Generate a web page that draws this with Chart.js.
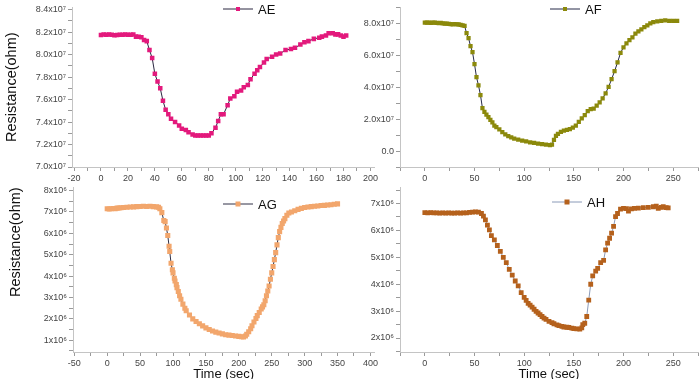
<!DOCTYPE html>
<html>
<head>
<meta charset="utf-8">
<script src="https://cdn.jsdelivr.net/npm/chart.js@4.4.0/dist/chart.umd.min.js"></script>
<style>
    html, body { margin: 0; padding: 0; background: #fff; }
    #wrap { position: relative; width: 700px; height: 379px; overflow: hidden; }
    #wrap canvas { position: absolute; }
</style>
</head>
<body>
<div id="wrap">
    <canvas id="chartAE" width="380" height="190" style="left:0;top:0"></canvas>
    <canvas id="chartAF" width="360" height="190" style="left:340px;top:0"></canvas>
    <canvas id="chartAG" width="380" height="199" style="left:0;top:180px"></canvas>
    <canvas id="chartAH" width="360" height="199" style="left:340px;top:180px"></canvas>
</div>
<script>
// AE: time (sec) and resistance (x10^7 ohm)
const aeTime = [0,2,4,6,8,10,12,14,16,18,20,22,24,26,28,30,32,34,36,38,40,42,44,46,48,50,52,
    55,58,60,63,65,68,70,72,74,76,78,80,
    82,85,87,89,91,94,96,99,101,104,106,109,111,114,116,118,121,123,127,130,133,137,141,144,148,151,154,158,162,164,167,169,172,174,176,178,180,182];
const aeRes = [8.175,8.178,8.176,8.179,8.177,8.172,8.175,8.177,8.176,8.178,8.177,8.176,8.178,8.16,8.158,8.155,8.13,8.12,8.04,7.97,7.83,7.76,7.70,7.59,7.51,7.47,7.43,
    7.40,7.37,7.34,7.33,7.31,7.29,7.28,7.28,7.28,7.28,7.28,7.28,
    7.30,7.35,7.41,7.47,7.47,7.55,7.61,7.63,7.67,7.68,7.71,7.73,7.78,7.83,7.86,7.89,7.93,7.96,7.98,8.00,8.01,8.04,8.05,8.06,8.09,8.11,8.12,8.14,8.15,8.16,8.17,8.19,8.19,8.18,8.18,8.17,8.16,8.17];

// AF: time (sec) and resistance (x10^7 ohm)
const afTime = [0,2,4,6,8,10,12,14,16,18,20,22,24,26,28,30,32,34,36,38,40,
    42,44,46,48,50,52,54,56,58,60,62,64,66,68,70,72,75,78,81,84,87,90,94,98,102,106,110,114,118,122,126,
    128,130,132,134,137,140,143,146,149,152,155,158,161,164,167,170,173,176,179,182,185,188,191,194,197,
    200,203,206,209,212,215,218,221,224,227,230,234,238,242,246,250,254];
const afRes = [8.05,8.04,8.05,8.03,8.04,8.05,8.03,8.02,8.03,8.00,7.99,7.98,7.97,7.95,7.93,7.96,7.94,7.93,7.90,7.88,7.85,
    7.39,7.08,6.57,6.20,5.45,4.63,4.12,3.51,2.69,2.45,2.28,2.12,1.95,1.80,1.60,1.50,1.35,1.18,1.05,0.93,0.85,0.78,0.72,0.65,0.60,0.55,0.51,0.47,0.43,0.40,0.37,
    0.40,0.70,0.95,1.08,1.20,1.28,1.33,1.38,1.47,1.60,1.82,2.05,2.25,2.50,2.62,2.65,2.85,3.05,3.30,3.62,4.02,4.50,5.00,5.55,6.15,
    6.50,6.75,6.95,7.12,7.35,7.50,7.62,7.76,7.88,8.00,8.08,8.13,8.15,8.18,8.16,8.15,8.16];

// AG: time (sec) and resistance (x10^6 ohm)
const agTime = [0,3,6,9,12,15,18,21,25,30,35,40,45,50,55,60,65,70,75,78,
    80,83,86,88,90,92,94,95,97,99,100,102,103,105,106,108,110,112,115,118,120,125,130,135,140,145,150,155,160,165,170,175,180,185,190,195,200,204,207,
    210,212,215,218,220,223,226,228,231,234,236,238,240,242,244,246,248,250,252,254,256,258,260,262,264,266,268,270,273,276,
    280,285,290,295,300,305,310,315,320,325,330,335,340,345,350];
const agRes = [7.15,7.14,7.15,7.16,7.15,7.18,7.19,7.20,7.21,7.22,7.23,7.24,7.25,7.26,7.27,7.26,7.27,7.25,7.24,7.22,
    7.15,6.97,6.60,6.55,6.25,5.90,5.40,5.15,4.60,4.30,4.15,3.90,3.77,3.60,3.46,3.28,3.08,2.92,2.69,2.50,2.38,2.18,2.00,1.88,1.77,1.67,1.58,1.50,1.43,1.38,1.34,1.30,1.26,1.24,1.22,1.20,1.18,1.16,1.15,
    1.20,1.28,1.40,1.54,1.68,1.85,2.02,2.15,2.30,2.46,2.56,2.66,2.85,3.08,3.30,3.54,3.85,4.15,4.45,4.77,5.10,5.46,5.80,6.08,6.28,6.46,6.58,6.69,6.85,6.95,
    7.00,7.06,7.12,7.17,7.21,7.23,7.25,7.27,7.28,7.30,7.31,7.33,7.34,7.36,7.38];

// AH: time (sec) and resistance (x10^6 ohm)
const ahTime = [0,3,6,9,12,15,18,21,24,27,30,33,36,39,42,45,48,51,54,
    57,59,61,63,65,67,70,73,76,79,82,85,88,91,94,97,100,102,104,106,108,110,112,114,116,118,120,122,125,128,130,133,135,138,140,143,145,148,150,153,156,
    158,159,161,163,165,167,169,172,174,177,180,182,184,186,188,190,192,194,197,
    200,203,205,208,211,215,220,225,230,233,235,238,240,243,245];
const ahRes = [6.66,6.65,6.66,6.65,6.65,6.64,6.65,6.64,6.65,6.64,6.64,6.65,6.64,6.65,6.65,6.67,6.68,6.69,6.68,
    6.63,6.53,6.39,6.20,6.02,5.81,5.65,5.44,5.22,5.00,4.80,4.55,4.34,4.12,3.94,3.69,3.51,3.40,3.29,3.22,3.15,3.07,2.99,2.93,2.87,2.80,2.74,2.69,2.62,2.57,2.53,2.49,2.46,2.43,2.41,2.40,2.39,2.37,2.35,2.34,2.33,
    2.38,2.50,2.55,2.80,3.41,4.00,4.31,4.49,4.59,4.80,4.89,5.28,5.53,5.71,5.90,6.15,6.51,6.63,6.79,
    6.82,6.81,6.72,6.80,6.82,6.83,6.85,6.86,6.88,6.90,6.82,6.86,6.88,6.85,6.84];

// Axis tick labels
const aeXTicks = [-20,0,20,40,60,80,100,120,140,160,180,200];
const aeYTicks = [7.0e7,7.2e7,7.4e7,7.6e7,7.8e7,8.0e7,8.2e7,8.4e7];
const afXTicks = [0,50,100,150,200,250];
const afYTicks = [0,2.0e7,4.0e7,6.0e7,8.0e7];
const agXTicks = [-50,0,50,100,150,200,250,300,350,400];
const agYTicks = [1e6,2e6,3e6,4e6,5e6,6e6,7e6,8e6];
const ahXTicks = [0,50,100,150,200,250];
const ahYTicks = [2e6,3e6,4e6,5e6,6e6,7e6];

const fontFamily = '"Liberation Sans", Arial, Helvetica, sans-serif';
Chart.defaults.font.family = fontFamily;
Chart.defaults.font.size = 9;
Chart.defaults.color = '#444';

// small legend drawn inside the plot: line, square marker, label
const seriesLegend = {
    id: 'seriesLegend',
    afterDatasetsDraw(chart, args, opts) {
        const ds = chart.data.datasets[0];
        const ctx = chart.ctx;
        ctx.save();
        ctx.strokeStyle = opts.lineColor || ds.borderColor;
        ctx.lineWidth = 1;
        ctx.beginPath();
        ctx.moveTo(opts.x, opts.y);
        ctx.lineTo(opts.x + 30, opts.y);
        ctx.stroke();
        ctx.fillStyle = ds.pointBackgroundColor;
        ctx.fillRect(opts.x + 15 - opts.marker / 2, opts.y - opts.marker / 2, opts.marker, opts.marker);
        ctx.fillStyle = '#111';
        ctx.font = '13px ' + fontFamily;
        ctx.textBaseline = 'middle';
        ctx.fillText(ds.label, opts.x + 35, opts.y + 1);
        ctx.restore();
    }
};

function withMinor(major, min, max) {
    const step = major[1] - major[0];
    const out = [];
    for (let i = -1; i < major.length; i++) {
        const base = i < 0 ? major[0] - step : major[i];
        if (i >= 0) out.push({ value: base });
        const mid = base + step / 2;
        if (mid >= min && mid <= max) out.push({ value: mid });
    }
    return out;
}

function isMajor(v, major) {
    return major.some(m => Math.abs(m - v) < 1e-6 * Math.max(1, Math.abs(m)));
}

function axisStyle(major, min, max, size, fmt, title) {
    const axis = {
        type: 'linear',
        min: min,
        max: max,
        afterBuildTicks: scale => { scale.ticks = withMinor(major, min, max); },
        afterFit: scale => {
            if (scale.isHorizontal()) scale.height = size; else scale.width = size;
        },
        border: { color: '#c4c4c4', width: 1 },
        grid: {
            drawOnChartArea: false,
            drawTicks: true,
            tickLength: 4,
            tickColor: '#9a9a9a'
        },
        ticks: {
            autoSkip: false,
            maxRotation: 0,
            padding: 2,
            color: '#444',
            font: { size: 9 },
            callback: v => isMajor(v, major) ? fmt(v) : ''
        }
    };
    if (title) axis.title = title;
    return axis;
}

function createChart(id, cfg) {
    new Chart(document.getElementById(id), {
        type: 'line',
        data: {
            datasets: [{
                label: cfg.label,
                data: cfg.time.map((t, i) => ({ x: t, y: cfg.res[i] * cfg.unit })),
                borderColor: cfg.lineColor,
                borderWidth: 1,
                tension: 0,
                pointStyle: 'rect',
                pointRadius: cfg.pointRadius,
                pointBackgroundColor: cfg.color,
                pointBorderColor: cfg.color,
                pointBorderWidth: 0
            }]
        },
        options: {
            responsive: false,
            animation: false,
            events: [],
            layout: { autoPadding: false, padding: cfg.padding },
            plugins: {
                legend: { display: false },
                tooltip: { enabled: false },
                seriesLegend: cfg.legend
            },
            scales: {
                x: cfg.x,
                y: cfg.y
            }
        },
        plugins: [seriesLegend]
    });
}

const yTitle = (pad, align) => ({
    display: true,
    text: 'Resistance(ohm)',
    color: '#111',
    align: align,
    padding: { top: pad, bottom: 0 },
    font: { size: 14.5, lineHeight: 1.2 }
});
const xTitle = {
    display: true,
    text: 'Time (sec)',
    color: '#111',
    padding: { top: 0, bottom: -2 },
    font: { size: 13, lineHeight: 1 }
};

const fmt7 = v => (v / 1e7).toFixed(1) + 'x10\u2077';
const fmt7zero = v => v === 0 ? '0.0' : (v / 1e7).toFixed(1) + 'x10\u2077';
const fmt6 = v => (v / 1e6).toFixed(0) + 'x10\u2076';
const fmtPlain = v => String(v);

createChart('chartAE', {
    label: 'AE', time: aeTime, res: aeRes, unit: 1e7,
    color: '#e3197c', lineColor: '#2a2640', pointRadius: 3.2,
    padding: { top: 3, right: 5, left: 0, bottom: 0 },
    legend: { x: 223, y: 9, marker: 4 },
    x: axisStyle(aeXTicks, -21.5, 203, 23, fmtPlain),
    y: axisStyle(aeYTicks, 7.0e7, 8.42e7, 72, fmt7, yTitle(3, 'center'))
});

createChart('chartAF', {
    label: 'AF', time: afTime, res: afRes, unit: 1e7,
    color: '#8b890b', lineColor: '#262a48', pointRadius: 3.0,
    padding: { top: 3, right: 0, left: 0, bottom: 0 },
    legend: { x: 210, y: 9, marker: 4 },
    x: axisStyle(afXTicks, -25, 275, 23, fmtPlain),
    y: axisStyle(afYTicks, -1e7, 9e7, 60, fmt7zero)
});

createChart('chartAG', {
    label: 'AG', time: agTime, res: agRes, unit: 1e6,
    color: '#f2a66c', lineColor: '#303046', pointRadius: 3.6,
    padding: { top: 5, right: 4, left: 0, bottom: 0 },
    legend: { x: 223, y: 24, marker: 5 },
    x: axisStyle(agXTicks, -52, 406, 27, fmtPlain, xTitle),
    y: axisStyle(agYTicks, 0.45e6, 8.15e6, 73, fmt6, yTitle(7, 'end'))
});

createChart('chartAH', {
    label: 'AH', time: ahTime, res: ahRes, unit: 1e6,
    color: '#b5611c', lineColor: '#8a9ab8', pointRadius: 3.4,
    padding: { top: 5, right: 0, left: 0, bottom: 0 },
    legend: { x: 212, y: 22, marker: 5 },
    x: axisStyle(ahXTicks, -25, 275, 27, fmtPlain, xTitle),
    y: axisStyle(ahYTicks, 1.48e6, 7.6e6, 60, fmt6)
});
</script>
</body>
</html>
